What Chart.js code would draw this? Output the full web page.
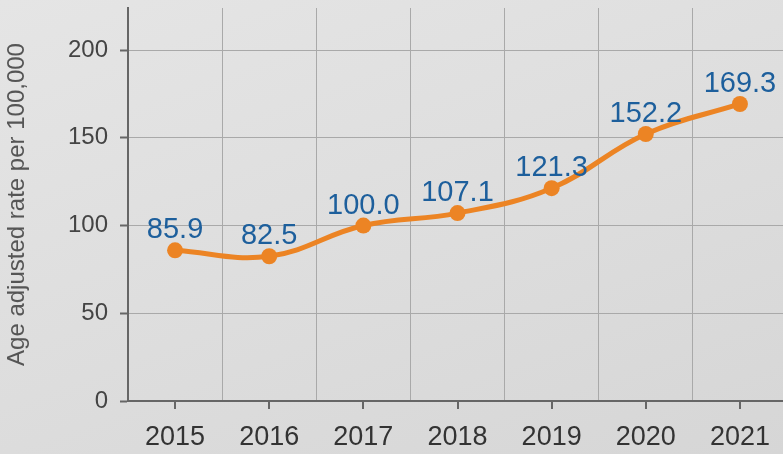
<!DOCTYPE html>
<html>
<head>
<meta charset="utf-8">
<script src="https://cdn.jsdelivr.net/npm/chart.js@4/dist/chart.umd.min.js"></script>
<style>
html, body { margin:0; padding:0; width:783px; height:454px; overflow:hidden;
  background: linear-gradient(160deg, #e5e5e5 0%, #dddddd 55%, #d6d6d6 100%); }
canvas { display:block; }
</style>
</head>
<body>
<canvas id="c" width="795" height="454"></canvas>
<script>
const years = ['2015','2016','2017','2018','2019','2020','2021'];
const rates = [85.9, 82.5, 100.0, 107.1, 121.3, 152.2, 169.3];
const yTicks = [0, 50, 100, 150, 200];
const yTitle = 'Age adjusted rate per 100,000';

const FONT = '"Liberation Sans", Arial, sans-serif';

const valueLabels = {
  id: 'valueLabels',
  afterDatasetsDraw(chart) {
    const ctx = chart.ctx;
    const meta = chart.getDatasetMeta(0);
    ctx.save();
    ctx.font = '29px ' + FONT;
    ctx.fillStyle = '#1d5f9c';
    ctx.textAlign = 'center';
    ctx.textBaseline = 'alphabetic';
    meta.data.forEach((pt, i) => {
      ctx.fillText(rates[i].toFixed(1), pt.x, pt.y - 12);
    });
    ctx.restore();
  }
};

function noPad(s) { s.paddingTop = 0; s.paddingBottom = 0; s.paddingLeft = 0; s.paddingRight = 0; }

new Chart(document.getElementById('c'), {
  type: 'line',
  data: {
    labels: years,
    datasets: [{
      data: rates,
      borderColor: '#ec8424',
      backgroundColor: '#ec8424',
      borderWidth: 5,
      pointRadius: 8,
      pointHoverRadius: 8,
      pointBackgroundColor: '#ec8424',
      pointBorderWidth: 0,
      tension: 0.4,
      xAxisID: 'x',
      yAxisID: 'y'
    }]
  },
  options: {
    responsive: false,
    devicePixelRatio: 1,
    animation: false,
    layout: { padding: { top: 7, right: 0, left: 0, bottom: 0 } },
    plugins: { legend: { display: false }, tooltip: { enabled: false } },
    scales: {
      x: {
        type: 'category',
        position: 'bottom',
        offset: true,
        grid: { offset: false, drawOnChartArea: false, color: '#666', tickLength: 8, lineWidth: 2 },
        border: { color: '#666', width: 2 },
        ticks: { color: '#333', font: { family: FONT, size: 27 }, padding: 12, maxRotation: 0 },
        afterFit(s) { s.height = 53; noPad(s); }
      },
      xg: {
        type: 'category',
        position: 'bottom',
        labels: years,
        offset: true,
        grid: { offset: true, color: '#a9a9a9', lineWidth: 1, drawTicks: false },
        border: { display: false },
        ticks: { display: false },
        afterFit(s) { s.height = 0; noPad(s); }
      },
      y: {
        min: 0,
        max: 224,
        afterBuildTicks(s) { s.ticks = yTicks.map(v => ({ value: v })); },
        grid: { color: '#a9a9a9', lineWidth: 1, tickLength: 8, tickColor: '#666', tickWidth: 2 },
        border: { color: '#666', width: 2 },
        ticks: { color: '#444', font: { family: FONT, size: 24 }, padding: 12 },
        title: { display: true, text: yTitle, color: '#555', font: { family: FONT, size: 24 }, padding: { top: 3, bottom: 0 } },
        afterFit(s) { s.width = 128; noPad(s); }
      }
    }
  },
  plugins: [valueLabels]
});
</script>
</body>
</html>
